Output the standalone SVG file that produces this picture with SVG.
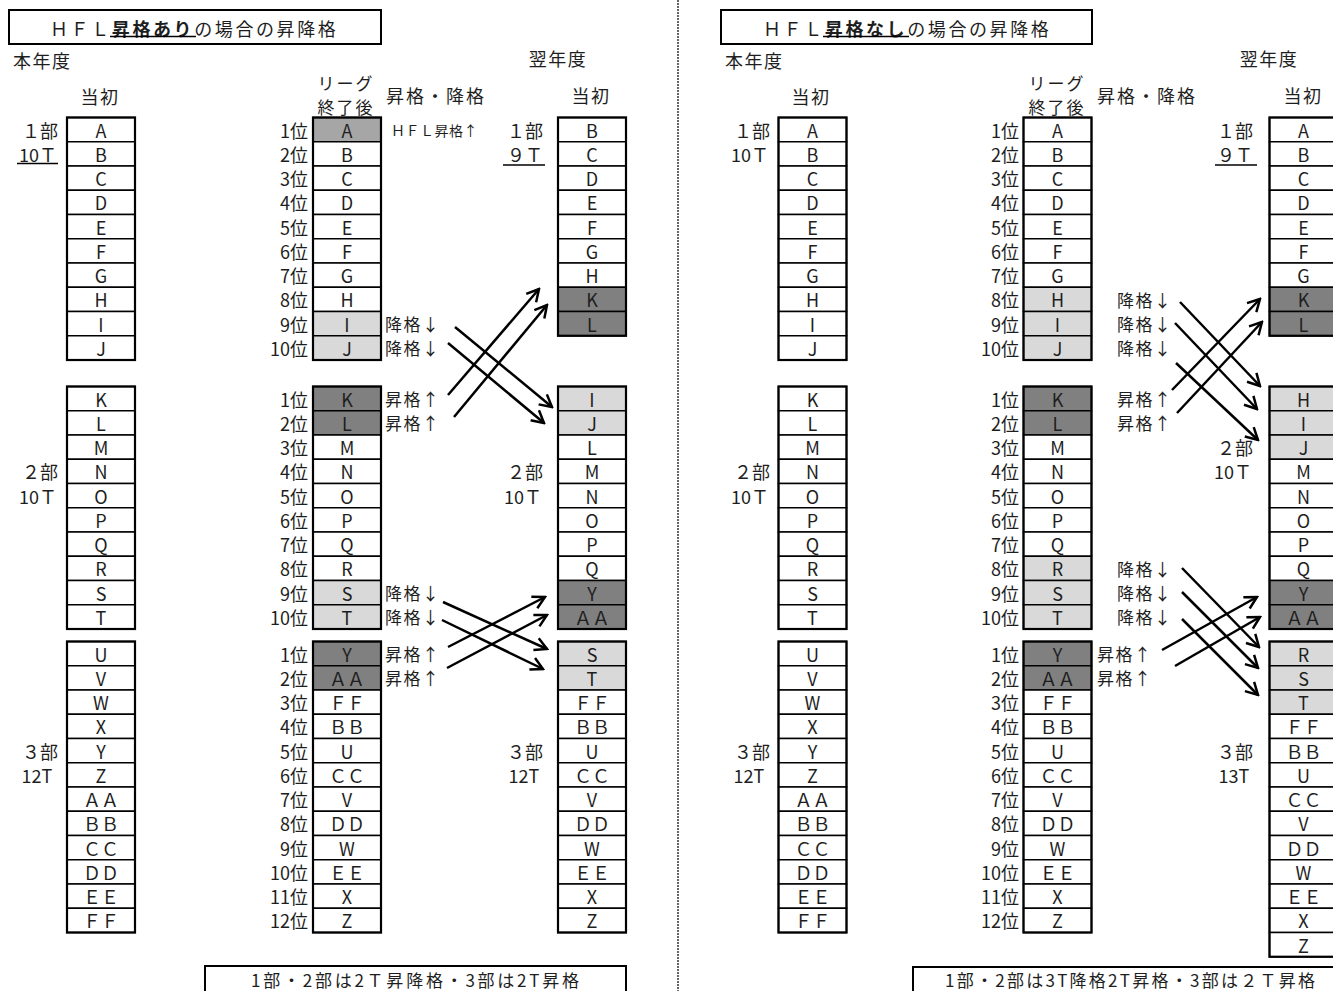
<svg xmlns="http://www.w3.org/2000/svg" width="1333" height="991" viewBox="0 0 1333 991">
<defs>
<style>
text{font-family:"Noto Sans CJK JP","Noto Sans CJK SC",sans-serif;fill:#1e1e1e;dominant-baseline:central}
.c{font-size:18px;text-anchor:middle}
.p{font-size:18px;text-anchor:end}
.a{font-size:17px;letter-spacing:1.5px}
.h{font-size:18px;letter-spacing:1.5px}
.hm{font-size:18px;letter-spacing:1.5px;text-anchor:middle}
.dv{font-size:18px;text-anchor:middle}
.t{font-size:18px;letter-spacing:2.6px}
rect.w{fill:#fff;stroke:#000;stroke-width:1.5}
rect.l{fill:#d9d9d9;stroke:#000;stroke-width:1.5}
rect.m{fill:#a6a6a6;stroke:#000;stroke-width:1.5}
rect.d{fill:#808080;stroke:#000;stroke-width:1.5}
.f{fill:none;stroke:#000;stroke-width:2.2}
.box{fill:#fff;stroke:#000;stroke-width:2}
.ul{stroke:#000;stroke-width:1.6}
.arr{stroke:#000;stroke-width:2.5;fill:none;marker-end:url(#ah)}
</style>
<marker id="ah" markerUnits="userSpaceOnUse" markerWidth="16" markerHeight="16" viewBox="0 0 16 16" refX="14" refY="8" orient="auto"><path d="M2,1.5 L14,8 L2,14.5" fill="none" stroke="#000" stroke-width="2.5"/></marker>
</defs>
<rect width="1333" height="991" fill="#fff"/>

<line x1="678" y1="0" x2="678" y2="991" stroke="#333" stroke-width="1.5" stroke-dasharray="2 1"/>

<!-- ================= LEFT HALF ================= -->
<g id="L-title">
<rect class="box" x="9" y="10" width="372" height="34"/>
<text class="t" x="50" y="28">ＨＦＬ<tspan font-weight="bold">昇格あり</tspan>の場合の昇降格</text>
<line class="ul" x1="110" y1="36.5" x2="196" y2="36.5" stroke-width="2"/>
</g>
<g id="L-headers">
<text class="h" x="13" y="60">本年度</text>
<text class="hm" x="100" y="96">当初</text>
<text class="hm" x="346" y="82" style="font-size:17px;letter-spacing:2px">リーグ</text>
<text class="hm" x="346" y="106" style="font-size:17px;letter-spacing:2px">終了後</text>
<text class="hm" x="436" y="95" style="letter-spacing:2px">昇格・降格</text>
<text class="hm" x="558" y="58">翌年度</text>
<text class="hm" x="591" y="95">当初</text>
<text x="391" y="130" style="font-size:14px;letter-spacing:0.5px">ＨＦＬ昇格↑</text>
</g>
<g id="L-div-labels">
<text class="dv" x="40" y="129.6">１部</text>
<text class="dv" x="38" y="153.9">10Ｔ</text>
<line class="ul" x1="17" y1="163.5" x2="58" y2="163.5"/>
<text class="dv" x="40" y="471.4">２部</text>
<text class="dv" x="38" y="495.6">10Ｔ</text>
<text class="dv" x="40" y="750.6">３部</text>
<text class="dv" x="37" y="774.9">12T</text>
<text class="dv" x="525" y="129.6">１部</text>
<text class="dv" x="525" y="153.9">９Ｔ</text>
<line class="ul" x1="503" y1="165" x2="545" y2="165"/>
<text class="dv" x="525" y="471.4">２部</text>
<text class="dv" x="523" y="495.6">10Ｔ</text>
<text class="dv" x="525" y="750.6">３部</text>
<text class="dv" x="524" y="774.9">12T</text>
</g>

<!-- left column (current) -->
<g id="L-now-1" transform="translate(67,0)">
<rect class="w" y="117.5" width="68" height="24.25"/><rect class="w" y="141.75" width="68" height="24.25"/><rect class="w" y="166" width="68" height="24.25"/><rect class="w" y="190.25" width="68" height="24.25"/><rect class="w" y="214.5" width="68" height="24.25"/><rect class="w" y="238.75" width="68" height="24.25"/><rect class="w" y="263" width="68" height="24.25"/><rect class="w" y="287.25" width="68" height="24.25"/><rect class="w" y="311.5" width="68" height="24.25"/><rect class="w" y="335.75" width="68" height="24.25"/>
<rect class="f" y="117.5" width="68" height="242.5"/>
<text class="c" x="34" y="129.6">A</text><text class="c" x="34" y="153.9">B</text><text class="c" x="34" y="178.1">C</text><text class="c" x="34" y="202.4">D</text><text class="c" x="34" y="226.6">E</text><text class="c" x="34" y="250.9">F</text><text class="c" x="34" y="275.1">G</text><text class="c" x="34" y="299.4">H</text><text class="c" x="34" y="323.6">I</text><text class="c" x="34" y="347.9">J</text>
</g>
<g id="L-now-2" transform="translate(67,0)">
<rect class="w" y="386.5" width="68" height="24.25"/><rect class="w" y="410.75" width="68" height="24.25"/><rect class="w" y="435" width="68" height="24.25"/><rect class="w" y="459.25" width="68" height="24.25"/><rect class="w" y="483.5" width="68" height="24.25"/><rect class="w" y="507.75" width="68" height="24.25"/><rect class="w" y="532" width="68" height="24.25"/><rect class="w" y="556.25" width="68" height="24.25"/><rect class="w" y="580.5" width="68" height="24.25"/><rect class="w" y="604.75" width="68" height="24.25"/>
<rect class="f" y="386.5" width="68" height="242.5"/>
<text class="c" x="34" y="398.6">K</text><text class="c" x="34" y="422.9">L</text><text class="c" x="34" y="447.1">M</text><text class="c" x="34" y="471.4">N</text><text class="c" x="34" y="495.6">O</text><text class="c" x="34" y="519.9">P</text><text class="c" x="34" y="544.1">Q</text><text class="c" x="34" y="568.4">R</text><text class="c" x="34" y="592.6">S</text><text class="c" x="34" y="616.9">T</text>
</g>
<g id="L-now-3" transform="translate(67,0)">
<rect class="w" y="641.5" width="68" height="24.25"/><rect class="w" y="665.75" width="68" height="24.25"/><rect class="w" y="690" width="68" height="24.25"/><rect class="w" y="714.25" width="68" height="24.25"/><rect class="w" y="738.5" width="68" height="24.25"/><rect class="w" y="762.75" width="68" height="24.25"/><rect class="w" y="787" width="68" height="24.25"/><rect class="w" y="811.25" width="68" height="24.25"/><rect class="w" y="835.5" width="68" height="24.25"/><rect class="w" y="859.75" width="68" height="24.25"/><rect class="w" y="884" width="68" height="24.25"/><rect class="w" y="908.25" width="68" height="24.25"/>
<rect class="f" y="641.5" width="68" height="291"/>
<text class="c" x="34" y="653.6">U</text><text class="c" x="34" y="677.9">V</text><text class="c" x="34" y="702.1">W</text><text class="c" x="34" y="726.4">X</text><text class="c" x="34" y="750.6">Y</text><text class="c" x="34" y="774.9">Z</text><text class="c" x="34" y="799.1">ＡＡ</text><text class="c" x="34" y="823.4">ＢＢ</text><text class="c" x="34" y="847.6">ＣＣ</text><text class="c" x="34" y="871.9">ＤＤ</text><text class="c" x="34" y="896.1">ＥＥ</text><text class="c" x="34" y="920.4">ＦＦ</text>
</g>

<!-- middle column (after league) -->
<g id="L-ranks">
<text class="p" x="308" y="129.6">1位</text><text class="p" x="308" y="153.9">2位</text><text class="p" x="308" y="178.1">3位</text><text class="p" x="308" y="202.4">4位</text><text class="p" x="308" y="226.6">5位</text><text class="p" x="308" y="250.9">6位</text><text class="p" x="308" y="275.1">7位</text><text class="p" x="308" y="299.4">8位</text><text class="p" x="308" y="323.6">9位</text><text class="p" x="308" y="347.9">10位</text>
<text class="p" x="308" y="398.6">1位</text><text class="p" x="308" y="422.9">2位</text><text class="p" x="308" y="447.1">3位</text><text class="p" x="308" y="471.4">4位</text><text class="p" x="308" y="495.6">5位</text><text class="p" x="308" y="519.9">6位</text><text class="p" x="308" y="544.1">7位</text><text class="p" x="308" y="568.4">8位</text><text class="p" x="308" y="592.6">9位</text><text class="p" x="308" y="616.9">10位</text>
<text class="p" x="308" y="653.6">1位</text><text class="p" x="308" y="677.9">2位</text><text class="p" x="308" y="702.1">3位</text><text class="p" x="308" y="726.4">4位</text><text class="p" x="308" y="750.6">5位</text><text class="p" x="308" y="774.9">6位</text><text class="p" x="308" y="799.1">7位</text><text class="p" x="308" y="823.4">8位</text><text class="p" x="308" y="847.6">9位</text><text class="p" x="308" y="871.9">10位</text><text class="p" x="308" y="896.1">11位</text><text class="p" x="308" y="920.4">12位</text>
</g>
<g id="L-end-1" transform="translate(313,0)">
<rect class="m" y="117.5" width="68" height="24.25"/><rect class="w" y="141.75" width="68" height="24.25"/><rect class="w" y="166" width="68" height="24.25"/><rect class="w" y="190.25" width="68" height="24.25"/><rect class="w" y="214.5" width="68" height="24.25"/><rect class="w" y="238.75" width="68" height="24.25"/><rect class="w" y="263" width="68" height="24.25"/><rect class="w" y="287.25" width="68" height="24.25"/><rect class="l" y="311.5" width="68" height="24.25"/><rect class="l" y="335.75" width="68" height="24.25"/>
<rect class="f" y="117.5" width="68" height="242.5"/>
<text class="c" x="34" y="129.6">A</text><text class="c" x="34" y="153.9">B</text><text class="c" x="34" y="178.1">C</text><text class="c" x="34" y="202.4">D</text><text class="c" x="34" y="226.6">E</text><text class="c" x="34" y="250.9">F</text><text class="c" x="34" y="275.1">G</text><text class="c" x="34" y="299.4">H</text><text class="c" x="34" y="323.6">I</text><text class="c" x="34" y="347.9">J</text>
</g>
<g id="L-end-2" transform="translate(313,0)">
<rect class="d" y="386.5" width="68" height="24.25"/><rect class="d" y="410.75" width="68" height="24.25"/><rect class="w" y="435" width="68" height="24.25"/><rect class="w" y="459.25" width="68" height="24.25"/><rect class="w" y="483.5" width="68" height="24.25"/><rect class="w" y="507.75" width="68" height="24.25"/><rect class="w" y="532" width="68" height="24.25"/><rect class="w" y="556.25" width="68" height="24.25"/><rect class="l" y="580.5" width="68" height="24.25"/><rect class="l" y="604.75" width="68" height="24.25"/>
<rect class="f" y="386.5" width="68" height="242.5"/>
<text class="c" x="34" y="398.6">K</text><text class="c" x="34" y="422.9">L</text><text class="c" x="34" y="447.1">M</text><text class="c" x="34" y="471.4">N</text><text class="c" x="34" y="495.6">O</text><text class="c" x="34" y="519.9">P</text><text class="c" x="34" y="544.1">Q</text><text class="c" x="34" y="568.4">R</text><text class="c" x="34" y="592.6">S</text><text class="c" x="34" y="616.9">T</text>
</g>
<g id="L-end-3" transform="translate(313,0)">
<rect class="d" y="641.5" width="68" height="24.25"/><rect class="d" y="665.75" width="68" height="24.25"/><rect class="w" y="690" width="68" height="24.25"/><rect class="w" y="714.25" width="68" height="24.25"/><rect class="w" y="738.5" width="68" height="24.25"/><rect class="w" y="762.75" width="68" height="24.25"/><rect class="w" y="787" width="68" height="24.25"/><rect class="w" y="811.25" width="68" height="24.25"/><rect class="w" y="835.5" width="68" height="24.25"/><rect class="w" y="859.75" width="68" height="24.25"/><rect class="w" y="884" width="68" height="24.25"/><rect class="w" y="908.25" width="68" height="24.25"/>
<rect class="f" y="641.5" width="68" height="291"/>
<text class="c" x="34" y="653.6">Y</text><text class="c" x="34" y="677.9">ＡＡ</text><text class="c" x="34" y="702.1">ＦＦ</text><text class="c" x="34" y="726.4">ＢＢ</text><text class="c" x="34" y="750.6">U</text><text class="c" x="34" y="774.9">ＣＣ</text><text class="c" x="34" y="799.1">V</text><text class="c" x="34" y="823.4">ＤＤ</text><text class="c" x="34" y="847.6">W</text><text class="c" x="34" y="871.9">ＥＥ</text><text class="c" x="34" y="896.1">X</text><text class="c" x="34" y="920.4">Z</text>
</g>

<g id="L-actions">
<text class="a" x="385" y="323.6">降格↓</text>
<text class="a" x="385" y="347.9">降格↓</text>
<text class="a" x="385" y="398.6">昇格↑</text>
<text class="a" x="385" y="422.9">昇格↑</text>
<text class="a" x="385" y="592.6">降格↓</text>
<text class="a" x="385" y="616.9">降格↓</text>
<text class="a" x="385" y="653.6">昇格↑</text>
<text class="a" x="385" y="677.9">昇格↑</text>
</g>

<!-- right column (next year) -->
<g id="L-next-1" transform="translate(558,0)">
<rect class="w" y="117.5" width="68" height="24.25"/><rect class="w" y="141.75" width="68" height="24.25"/><rect class="w" y="166" width="68" height="24.25"/><rect class="w" y="190.25" width="68" height="24.25"/><rect class="w" y="214.5" width="68" height="24.25"/><rect class="w" y="238.75" width="68" height="24.25"/><rect class="w" y="263" width="68" height="24.25"/><rect class="d" y="287.25" width="68" height="24.25"/><rect class="d" y="311.5" width="68" height="24.25"/>
<rect class="f" y="117.5" width="68" height="218.25"/>
<text class="c" x="34" y="129.6">B</text><text class="c" x="34" y="153.9">C</text><text class="c" x="34" y="178.1">D</text><text class="c" x="34" y="202.4">E</text><text class="c" x="34" y="226.6">F</text><text class="c" x="34" y="250.9">G</text><text class="c" x="34" y="275.1">H</text><text class="c" x="34" y="299.4">K</text><text class="c" x="34" y="323.6">L</text>
</g>
<g id="L-next-2" transform="translate(558,0)">
<rect class="l" y="386.5" width="68" height="24.25"/><rect class="l" y="410.75" width="68" height="24.25"/><rect class="w" y="435" width="68" height="24.25"/><rect class="w" y="459.25" width="68" height="24.25"/><rect class="w" y="483.5" width="68" height="24.25"/><rect class="w" y="507.75" width="68" height="24.25"/><rect class="w" y="532" width="68" height="24.25"/><rect class="w" y="556.25" width="68" height="24.25"/><rect class="d" y="580.5" width="68" height="24.25"/><rect class="d" y="604.75" width="68" height="24.25"/>
<rect class="f" y="386.5" width="68" height="242.5"/>
<text class="c" x="34" y="398.6">I</text><text class="c" x="34" y="422.9">J</text><text class="c" x="34" y="447.1">L</text><text class="c" x="34" y="471.4">M</text><text class="c" x="34" y="495.6">N</text><text class="c" x="34" y="519.9">O</text><text class="c" x="34" y="544.1">P</text><text class="c" x="34" y="568.4">Q</text><text class="c" x="34" y="592.6">Y</text><text class="c" x="34" y="616.9">ＡＡ</text>
</g>
<g id="L-next-3" transform="translate(558,0)">
<rect class="l" y="641.5" width="68" height="24.25"/><rect class="l" y="665.75" width="68" height="24.25"/><rect class="w" y="690" width="68" height="24.25"/><rect class="w" y="714.25" width="68" height="24.25"/><rect class="w" y="738.5" width="68" height="24.25"/><rect class="w" y="762.75" width="68" height="24.25"/><rect class="w" y="787" width="68" height="24.25"/><rect class="w" y="811.25" width="68" height="24.25"/><rect class="w" y="835.5" width="68" height="24.25"/><rect class="w" y="859.75" width="68" height="24.25"/><rect class="w" y="884" width="68" height="24.25"/><rect class="w" y="908.25" width="68" height="24.25"/>
<rect class="f" y="641.5" width="68" height="291"/>
<text class="c" x="34" y="653.6">S</text><text class="c" x="34" y="677.9">T</text><text class="c" x="34" y="702.1">ＦＦ</text><text class="c" x="34" y="726.4">ＢＢ</text><text class="c" x="34" y="750.6">U</text><text class="c" x="34" y="774.9">ＣＣ</text><text class="c" x="34" y="799.1">V</text><text class="c" x="34" y="823.4">ＤＤ</text><text class="c" x="34" y="847.6">W</text><text class="c" x="34" y="871.9">ＥＥ</text><text class="c" x="34" y="896.1">X</text><text class="c" x="34" y="920.4">Z</text>
</g>

<g id="L-note">
<rect class="box" x="205" y="966" width="421" height="40"/>
<text x="415" y="979.5" text-anchor="middle" style="font-size:17px" textLength="328" lengthAdjust="spacing">1部・2部は2Ｔ昇降格・3部は2T昇格</text>
</g>

<!-- ================= RIGHT HALF ================= -->
<g id="R-title">
<rect class="box" x="721" y="10" width="371" height="34"/>
<text class="t" x="763" y="28">ＨＦＬ<tspan font-weight="bold">昇格なし</tspan>の場合の昇降格</text>
<line class="ul" x1="823" y1="36.5" x2="909" y2="36.5" stroke-width="2"/>
</g>
<g id="R-headers">
<text class="h" x="725" y="60">本年度</text>
<text class="hm" x="811" y="96">当初</text>
<text class="hm" x="1057" y="82" style="font-size:17px;letter-spacing:2px">リーグ</text>
<text class="hm" x="1057" y="106" style="font-size:17px;letter-spacing:2px">終了後</text>
<text class="hm" x="1147" y="95" style="letter-spacing:2px">昇格・降格</text>
<text class="hm" x="1269" y="58">翌年度</text>
<text class="hm" x="1303" y="95">当初</text>
</g>
<g id="R-div-labels">
<text class="dv" x="752" y="129.6">１部</text>
<text class="dv" x="750" y="153.9">10Ｔ</text>
<text class="dv" x="752" y="471.4">２部</text>
<text class="dv" x="750" y="495.6">10Ｔ</text>
<text class="dv" x="752" y="750.6">３部</text>
<text class="dv" x="749" y="774.9">12T</text>
<text class="dv" x="1235" y="129.6">１部</text>
<text class="dv" x="1235" y="153.9">９Ｔ</text>
<line class="ul" x1="1215" y1="165" x2="1257" y2="165"/>
<text class="dv" x="1235" y="447.1">２部</text>
<text class="dv" x="1233" y="471.4">10Ｔ</text>
<text class="dv" x="1235" y="750.6">３部</text>
<text class="dv" x="1234" y="774.9">13T</text>
</g>

<g id="R-now-1" transform="translate(778.5,0)">
<rect class="w" y="117.5" width="68" height="24.25"/><rect class="w" y="141.75" width="68" height="24.25"/><rect class="w" y="166" width="68" height="24.25"/><rect class="w" y="190.25" width="68" height="24.25"/><rect class="w" y="214.5" width="68" height="24.25"/><rect class="w" y="238.75" width="68" height="24.25"/><rect class="w" y="263" width="68" height="24.25"/><rect class="w" y="287.25" width="68" height="24.25"/><rect class="w" y="311.5" width="68" height="24.25"/><rect class="w" y="335.75" width="68" height="24.25"/>
<rect class="f" y="117.5" width="68" height="242.5"/>
<text class="c" x="34" y="129.6">A</text><text class="c" x="34" y="153.9">B</text><text class="c" x="34" y="178.1">C</text><text class="c" x="34" y="202.4">D</text><text class="c" x="34" y="226.6">E</text><text class="c" x="34" y="250.9">F</text><text class="c" x="34" y="275.1">G</text><text class="c" x="34" y="299.4">H</text><text class="c" x="34" y="323.6">I</text><text class="c" x="34" y="347.9">J</text>
</g>
<g id="R-now-2" transform="translate(778.5,0)">
<rect class="w" y="386.5" width="68" height="24.25"/><rect class="w" y="410.75" width="68" height="24.25"/><rect class="w" y="435" width="68" height="24.25"/><rect class="w" y="459.25" width="68" height="24.25"/><rect class="w" y="483.5" width="68" height="24.25"/><rect class="w" y="507.75" width="68" height="24.25"/><rect class="w" y="532" width="68" height="24.25"/><rect class="w" y="556.25" width="68" height="24.25"/><rect class="w" y="580.5" width="68" height="24.25"/><rect class="w" y="604.75" width="68" height="24.25"/>
<rect class="f" y="386.5" width="68" height="242.5"/>
<text class="c" x="34" y="398.6">K</text><text class="c" x="34" y="422.9">L</text><text class="c" x="34" y="447.1">M</text><text class="c" x="34" y="471.4">N</text><text class="c" x="34" y="495.6">O</text><text class="c" x="34" y="519.9">P</text><text class="c" x="34" y="544.1">Q</text><text class="c" x="34" y="568.4">R</text><text class="c" x="34" y="592.6">S</text><text class="c" x="34" y="616.9">T</text>
</g>
<g id="R-now-3" transform="translate(778.5,0)">
<rect class="w" y="641.5" width="68" height="24.25"/><rect class="w" y="665.75" width="68" height="24.25"/><rect class="w" y="690" width="68" height="24.25"/><rect class="w" y="714.25" width="68" height="24.25"/><rect class="w" y="738.5" width="68" height="24.25"/><rect class="w" y="762.75" width="68" height="24.25"/><rect class="w" y="787" width="68" height="24.25"/><rect class="w" y="811.25" width="68" height="24.25"/><rect class="w" y="835.5" width="68" height="24.25"/><rect class="w" y="859.75" width="68" height="24.25"/><rect class="w" y="884" width="68" height="24.25"/><rect class="w" y="908.25" width="68" height="24.25"/>
<rect class="f" y="641.5" width="68" height="291"/>
<text class="c" x="34" y="653.6">U</text><text class="c" x="34" y="677.9">V</text><text class="c" x="34" y="702.1">W</text><text class="c" x="34" y="726.4">X</text><text class="c" x="34" y="750.6">Y</text><text class="c" x="34" y="774.9">Z</text><text class="c" x="34" y="799.1">ＡＡ</text><text class="c" x="34" y="823.4">ＢＢ</text><text class="c" x="34" y="847.6">ＣＣ</text><text class="c" x="34" y="871.9">ＤＤ</text><text class="c" x="34" y="896.1">ＥＥ</text><text class="c" x="34" y="920.4">ＦＦ</text>
</g>

<g id="R-ranks">
<text class="p" x="1019" y="129.6">1位</text><text class="p" x="1019" y="153.9">2位</text><text class="p" x="1019" y="178.1">3位</text><text class="p" x="1019" y="202.4">4位</text><text class="p" x="1019" y="226.6">5位</text><text class="p" x="1019" y="250.9">6位</text><text class="p" x="1019" y="275.1">7位</text><text class="p" x="1019" y="299.4">8位</text><text class="p" x="1019" y="323.6">9位</text><text class="p" x="1019" y="347.9">10位</text>
<text class="p" x="1019" y="398.6">1位</text><text class="p" x="1019" y="422.9">2位</text><text class="p" x="1019" y="447.1">3位</text><text class="p" x="1019" y="471.4">4位</text><text class="p" x="1019" y="495.6">5位</text><text class="p" x="1019" y="519.9">6位</text><text class="p" x="1019" y="544.1">7位</text><text class="p" x="1019" y="568.4">8位</text><text class="p" x="1019" y="592.6">9位</text><text class="p" x="1019" y="616.9">10位</text>
<text class="p" x="1019" y="653.6">1位</text><text class="p" x="1019" y="677.9">2位</text><text class="p" x="1019" y="702.1">3位</text><text class="p" x="1019" y="726.4">4位</text><text class="p" x="1019" y="750.6">5位</text><text class="p" x="1019" y="774.9">6位</text><text class="p" x="1019" y="799.1">7位</text><text class="p" x="1019" y="823.4">8位</text><text class="p" x="1019" y="847.6">9位</text><text class="p" x="1019" y="871.9">10位</text><text class="p" x="1019" y="896.1">11位</text><text class="p" x="1019" y="920.4">12位</text>
</g>
<g id="R-end-1" transform="translate(1023.5,0)">
<rect class="w" y="117.5" width="68" height="24.25"/><rect class="w" y="141.75" width="68" height="24.25"/><rect class="w" y="166" width="68" height="24.25"/><rect class="w" y="190.25" width="68" height="24.25"/><rect class="w" y="214.5" width="68" height="24.25"/><rect class="w" y="238.75" width="68" height="24.25"/><rect class="w" y="263" width="68" height="24.25"/><rect class="l" y="287.25" width="68" height="24.25"/><rect class="l" y="311.5" width="68" height="24.25"/><rect class="l" y="335.75" width="68" height="24.25"/>
<rect class="f" y="117.5" width="68" height="242.5"/>
<text class="c" x="34" y="129.6">A</text><text class="c" x="34" y="153.9">B</text><text class="c" x="34" y="178.1">C</text><text class="c" x="34" y="202.4">D</text><text class="c" x="34" y="226.6">E</text><text class="c" x="34" y="250.9">F</text><text class="c" x="34" y="275.1">G</text><text class="c" x="34" y="299.4">H</text><text class="c" x="34" y="323.6">I</text><text class="c" x="34" y="347.9">J</text>
</g>
<g id="R-end-2" transform="translate(1023.5,0)">
<rect class="d" y="386.5" width="68" height="24.25"/><rect class="d" y="410.75" width="68" height="24.25"/><rect class="w" y="435" width="68" height="24.25"/><rect class="w" y="459.25" width="68" height="24.25"/><rect class="w" y="483.5" width="68" height="24.25"/><rect class="w" y="507.75" width="68" height="24.25"/><rect class="w" y="532" width="68" height="24.25"/><rect class="l" y="556.25" width="68" height="24.25"/><rect class="l" y="580.5" width="68" height="24.25"/><rect class="l" y="604.75" width="68" height="24.25"/>
<rect class="f" y="386.5" width="68" height="242.5"/>
<text class="c" x="34" y="398.6">K</text><text class="c" x="34" y="422.9">L</text><text class="c" x="34" y="447.1">M</text><text class="c" x="34" y="471.4">N</text><text class="c" x="34" y="495.6">O</text><text class="c" x="34" y="519.9">P</text><text class="c" x="34" y="544.1">Q</text><text class="c" x="34" y="568.4">R</text><text class="c" x="34" y="592.6">S</text><text class="c" x="34" y="616.9">T</text>
</g>
<g id="R-end-3" transform="translate(1023.5,0)">
<rect class="d" y="641.5" width="68" height="24.25"/><rect class="d" y="665.75" width="68" height="24.25"/><rect class="w" y="690" width="68" height="24.25"/><rect class="w" y="714.25" width="68" height="24.25"/><rect class="w" y="738.5" width="68" height="24.25"/><rect class="w" y="762.75" width="68" height="24.25"/><rect class="w" y="787" width="68" height="24.25"/><rect class="w" y="811.25" width="68" height="24.25"/><rect class="w" y="835.5" width="68" height="24.25"/><rect class="w" y="859.75" width="68" height="24.25"/><rect class="w" y="884" width="68" height="24.25"/><rect class="w" y="908.25" width="68" height="24.25"/>
<rect class="f" y="641.5" width="68" height="291"/>
<text class="c" x="34" y="653.6">Y</text><text class="c" x="34" y="677.9">ＡＡ</text><text class="c" x="34" y="702.1">ＦＦ</text><text class="c" x="34" y="726.4">ＢＢ</text><text class="c" x="34" y="750.6">U</text><text class="c" x="34" y="774.9">ＣＣ</text><text class="c" x="34" y="799.1">V</text><text class="c" x="34" y="823.4">ＤＤ</text><text class="c" x="34" y="847.6">W</text><text class="c" x="34" y="871.9">ＥＥ</text><text class="c" x="34" y="896.1">X</text><text class="c" x="34" y="920.4">Z</text>
</g>

<g id="R-actions">
<text class="a" x="1117" y="299.4">降格↓</text>
<text class="a" x="1117" y="323.6">降格↓</text>
<text class="a" x="1117" y="347.9">降格↓</text>
<text class="a" x="1117" y="398.6">昇格↑</text>
<text class="a" x="1117" y="422.9">昇格↑</text>
<text class="a" x="1117" y="568.4">降格↓</text>
<text class="a" x="1117" y="592.6">降格↓</text>
<text class="a" x="1117" y="616.9">降格↓</text>
<text class="a" x="1097" y="653.6">昇格↑</text>
<text class="a" x="1097" y="677.9">昇格↑</text>
</g>

<g id="R-next-1" transform="translate(1269.5,0)">
<rect class="w" y="117.5" width="68" height="24.25"/><rect class="w" y="141.75" width="68" height="24.25"/><rect class="w" y="166" width="68" height="24.25"/><rect class="w" y="190.25" width="68" height="24.25"/><rect class="w" y="214.5" width="68" height="24.25"/><rect class="w" y="238.75" width="68" height="24.25"/><rect class="w" y="263" width="68" height="24.25"/><rect class="d" y="287.25" width="68" height="24.25"/><rect class="d" y="311.5" width="68" height="24.25"/>
<rect class="f" y="117.5" width="68" height="218.25"/>
<text class="c" x="34" y="129.6">A</text><text class="c" x="34" y="153.9">B</text><text class="c" x="34" y="178.1">C</text><text class="c" x="34" y="202.4">D</text><text class="c" x="34" y="226.6">E</text><text class="c" x="34" y="250.9">F</text><text class="c" x="34" y="275.1">G</text><text class="c" x="34" y="299.4">K</text><text class="c" x="34" y="323.6">L</text>
</g>
<g id="R-next-2" transform="translate(1269.5,0)">
<rect class="l" y="386.5" width="68" height="24.25"/><rect class="l" y="410.75" width="68" height="24.25"/><rect class="l" y="435" width="68" height="24.25"/><rect class="w" y="459.25" width="68" height="24.25"/><rect class="w" y="483.5" width="68" height="24.25"/><rect class="w" y="507.75" width="68" height="24.25"/><rect class="w" y="532" width="68" height="24.25"/><rect class="w" y="556.25" width="68" height="24.25"/><rect class="d" y="580.5" width="68" height="24.25"/><rect class="d" y="604.75" width="68" height="24.25"/>
<rect class="f" y="386.5" width="68" height="242.5"/>
<text class="c" x="34" y="398.6">H</text><text class="c" x="34" y="422.9">I</text><text class="c" x="34" y="447.1">J</text><text class="c" x="34" y="471.4">M</text><text class="c" x="34" y="495.6">N</text><text class="c" x="34" y="519.9">O</text><text class="c" x="34" y="544.1">P</text><text class="c" x="34" y="568.4">Q</text><text class="c" x="34" y="592.6">Y</text><text class="c" x="34" y="616.9">ＡＡ</text>
</g>
<g id="R-next-3" transform="translate(1269.5,0)">
<rect class="l" y="641.5" width="68" height="24.25"/><rect class="l" y="665.75" width="68" height="24.25"/><rect class="l" y="690" width="68" height="24.25"/><rect class="w" y="714.25" width="68" height="24.25"/><rect class="w" y="738.5" width="68" height="24.25"/><rect class="w" y="762.75" width="68" height="24.25"/><rect class="w" y="787" width="68" height="24.25"/><rect class="w" y="811.25" width="68" height="24.25"/><rect class="w" y="835.5" width="68" height="24.25"/><rect class="w" y="859.75" width="68" height="24.25"/><rect class="w" y="884" width="68" height="24.25"/><rect class="w" y="908.25" width="68" height="24.25"/><rect class="w" y="932.5" width="68" height="24.25"/>
<rect class="f" y="641.5" width="68" height="315.25"/>
<text class="c" x="34" y="653.6">R</text><text class="c" x="34" y="677.9">S</text><text class="c" x="34" y="702.1">T</text><text class="c" x="34" y="726.4">ＦＦ</text><text class="c" x="34" y="750.6">ＢＢ</text><text class="c" x="34" y="774.9">U</text><text class="c" x="34" y="799.1">ＣＣ</text><text class="c" x="34" y="823.4">V</text><text class="c" x="34" y="847.6">ＤＤ</text><text class="c" x="34" y="871.9">W</text><text class="c" x="34" y="896.1">ＥＥ</text><text class="c" x="34" y="920.4">X</text><text class="c" x="34" y="944.6">Z</text>
</g>

<g id="R-note">
<rect class="box" x="913" y="967" width="430" height="40"/>
<text x="1130" y="979" text-anchor="middle" style="font-size:17px" textLength="370" lengthAdjust="spacing">1部・2部は3T降格2T昇格・3部は２Ｔ昇格</text>
</g>

<!-- ================= CONNECTORS ================= -->
<g id="connectors">
<line class="arr" x1="448" y1="395" x2="539" y2="289"/>
<line class="arr" x1="454" y1="417" x2="547" y2="305"/>
<line class="arr" x1="455" y1="327" x2="552" y2="407"/>
<line class="arr" x1="448" y1="343" x2="544" y2="423"/>
<line class="arr" x1="443" y1="602" x2="547" y2="649"/>
<line class="arr" x1="442" y1="620" x2="543" y2="669"/>
<line class="arr" x1="448" y1="647" x2="545" y2="597"/>
<line class="arr" x1="447" y1="668" x2="547" y2="615"/>
<line class="arr" x1="1172" y1="390" x2="1260" y2="299"/>
<line class="arr" x1="1177" y1="413" x2="1262" y2="322"/>
<line class="arr" x1="1180" y1="302" x2="1260" y2="386"/>
<line class="arr" x1="1175" y1="323" x2="1257" y2="409"/>
<line class="arr" x1="1176" y1="363" x2="1258" y2="440"/>
<line class="arr" x1="1182" y1="568" x2="1259" y2="647"/>
<line class="arr" x1="1182" y1="592" x2="1258" y2="668"/>
<line class="arr" x1="1182" y1="619" x2="1258" y2="695"/>
<line class="arr" x1="1162" y1="650" x2="1257" y2="597"/>
<line class="arr" x1="1175" y1="666" x2="1260" y2="617"/>
</g>
</svg>
